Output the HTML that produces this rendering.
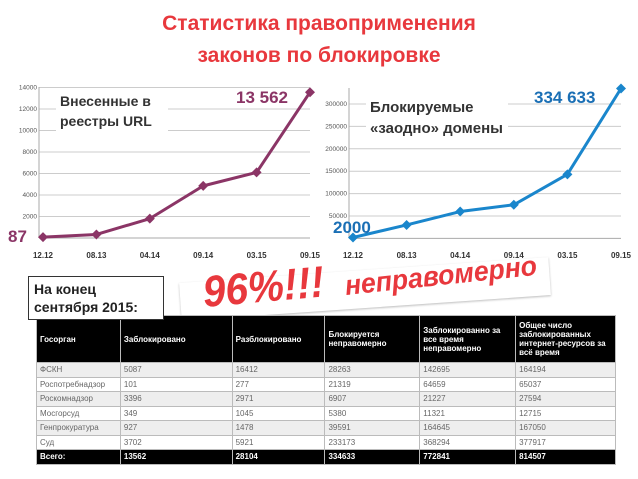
<!DOCTYPE html>
<html><head><meta charset="utf-8"><style>
body{margin:0;background:#fff;font-family:"Liberation Sans","Noto Sans CJK SC",sans-serif;}
#root{position:relative;width:638px;height:479px;overflow:hidden;background:#fff}
.t{position:absolute;}
table{border-collapse:collapse;font-size:8px;color:#666;}
td{border:1px solid #bbb;padding:0 3px;height:13.5px;}
</style></head><body>
<div id="root">
<div class="t" style="left:0;width:638px;top:8px;text-align:center;color:#e8383d;font-size:21px;font-weight:bold;line-height:32px;font-family:'Liberation Sans','Noto Sans CJK SC',sans-serif">Статистика правоприменения<br>законов по блокировке</div>
<svg id="chart" width="638" height="479" style="position:absolute;left:0;top:0"></svg>
<div class="t" style="left:180px;top:270px;width:370px;height:38px;background:#fff;transform:rotate(-4deg);box-shadow:0 1px 2px #bbb"></div>
<div class="t" style="left:36px;top:315px;width:580px">
<table id="tbl" style="width:580px">
<colgroup><col style="width:84px"><col style="width:112px"><col style="width:93px"><col style="width:95px"><col style="width:96px"><col style="width:100px"></colgroup>
<tr style="background:#000;color:#fff;font-weight:bold;height:47px"><td>Госорган</td><td>Заблокировано</td><td>Разблокировано</td><td>Блокируется неправомерно</td><td>Заблокированно за все время неправомерно</td><td>Общее число заблокированных интернет-ресурсов за всё время</td></tr>
<tr style="background:#eee"><td>ФСКН</td><td>5087</td><td>16412</td><td>28263</td><td>142695</td><td>164194</td></tr>
<tr><td>Роспотребнадзор</td><td>101</td><td>277</td><td>21319</td><td>64659</td><td>65037</td></tr>
<tr style="background:#eee"><td>Роскомнадзор</td><td>3396</td><td>2971</td><td>6907</td><td>21227</td><td>27594</td></tr>
<tr><td>Мосгорсуд</td><td>349</td><td>1045</td><td>5380</td><td>11321</td><td>12715</td></tr>
<tr style="background:#eee"><td>Генпрокуратура</td><td>927</td><td>1478</td><td>39591</td><td>164645</td><td>167050</td></tr>
<tr><td>Суд</td><td>3702</td><td>5921</td><td>233173</td><td>368294</td><td>377917</td></tr>
<tr style="background:#000;color:#fff;font-weight:bold"><td>Всего:</td><td>13562</td><td>28104</td><td>334633</td><td>772841</td><td>814507</td></tr>
</table></div>
<div class="t" style="left:28px;top:276px;width:136px;height:44px;border:1px solid #333;background:#fff;font-weight:bold;font-size:14px;line-height:18px;padding:3px 5px;box-sizing:border-box;color:#222">На конец<br>сентября 2015:</div>
<div class="t" style="left:203px;top:268px;color:#e8383d;font-weight:bold;font-style:italic;font-size:44px;transform:rotate(-5deg) scaleX(0.92);transform-origin:left center;line-height:50px">96%!!!</div>
<div class="t" style="left:345px;top:268px;color:#e8383d;font-weight:bold;font-style:italic;font-size:28px;transform:rotate(-6deg) scaleX(0.95);transform-origin:left center;line-height:36px">неправомерно</div>
</div>
<script>
const cats=["12.12","08.13","04.14","09.14","03.15","09.15"];
const urlValues=[87,330,1800,4850,6100,13562];
const urlTicks=[2000,4000,6000,8000,10000,12000,14000];
const domValues=[2000,30000,60000,75000,143000,334633];
const domTicks=[50000,100000,150000,200000,250000,300000];
const svg=document.getElementById('chart');const NS='http://www.w3.org/2000/svg';
function mk(tag,attrs,txt){const e=document.createElementNS(NS,tag);for(const k in attrs)e.setAttribute(k,attrs[k]);if(txt!=null)e.textContent=txt;svg.appendChild(e);return e;}
function chart(o){
 const xs=i=>o.x0+i*(o.x1-o.x0)/(cats.length-1);
 const ys=v=>o.yBase-v*o.k;
 o.ticks.forEach(t=>{
  const g=mk('line',{x1:o.x0-4,x2:o.x1,y1:ys(t),y2:ys(t),stroke:'#ccc','stroke-width':1});
  
  const l=mk('text',{x:o.lx,y:ys(t)+2,'font-size':6.5,fill:'#555','text-anchor':'end'},t);
  
 });
 const ax=mk('line',{x1:o.x0-4,x2:o.x1,y1:o.yBase,y2:o.yBase,stroke:'#aaa'});
 
 const ay=mk('line',{x1:o.x0-4,x2:o.x0-4,y1:o.yTop,y2:o.yBase,stroke:'#aaa'});
 
 cats.forEach((c,i)=>{const l=mk('text',{x:xs(i),y:258,'font-size':8,'font-weight':'bold',fill:'#333','text-anchor':'middle'},c);
  });
 const pts=o.vals.map((v,i)=>xs(i)+','+ys(v)).join(' ');
 const pl=mk('polyline',{points:pts,fill:'none',stroke:o.color,'stroke-width':3,'stroke-linejoin':'round'});
 
 o.vals.forEach((v,i)=>{const x=xs(i),y=ys(v);
  const d=mk('polygon',{points:`${x},${y-5} ${x+5},${y} ${x},${y+5} ${x-5},${y}`,fill:o.color});
  });
}
chart({x0:43,x1:310,yBase:238,k:21.5/2000,yTop:87,lx:37,ticks:urlTicks,vals:urlValues,color:'#8b3566'});
chart({x0:353,x1:621,yBase:238.4,k:0.000448,yTop:88,lx:347,ticks:domTicks,vals:domValues,color:'#1a86cc'});
const labels=[
 ['url-legend',[['Внесенные в',60,106],['реестры URL',60,126]],'#333',14,'bold','#fff'],
 ['domain-legend',[['Блокируемые',370,112],['«заодно» домены',370,133]],'#333',15,'bold','#fff'],
];
labels.forEach(([n,lines,c,s,w,bg])=>{
 const r=mk('rect',{x:lines[0][1]-4,y:lines[0][2]-15,width:n==='url-legend'?112:142,height:44,fill:bg});
 
 lines.forEach(([t,x,y])=>{const e=mk('text',{x,y,'font-size':s,'font-weight':w,fill:c},t);
 });
});
const v1=mk('text',{x:236,y:103,'font-size':17,'font-weight':'bold',fill:'#8b3566'},'13 562');

const v2=mk('text',{x:8,y:242,'font-size':17,'font-weight':'bold',fill:'#8b3566'},'87');

const v3=mk('text',{x:534,y:103,'font-size':17,'font-weight':'bold',fill:'#1a6fb5'},'334 633');

const v4=mk('text',{x:333,y:233,'font-size':17,'font-weight':'bold',fill:'#1a6fb5'},'2000');

</script>
</body></html>
